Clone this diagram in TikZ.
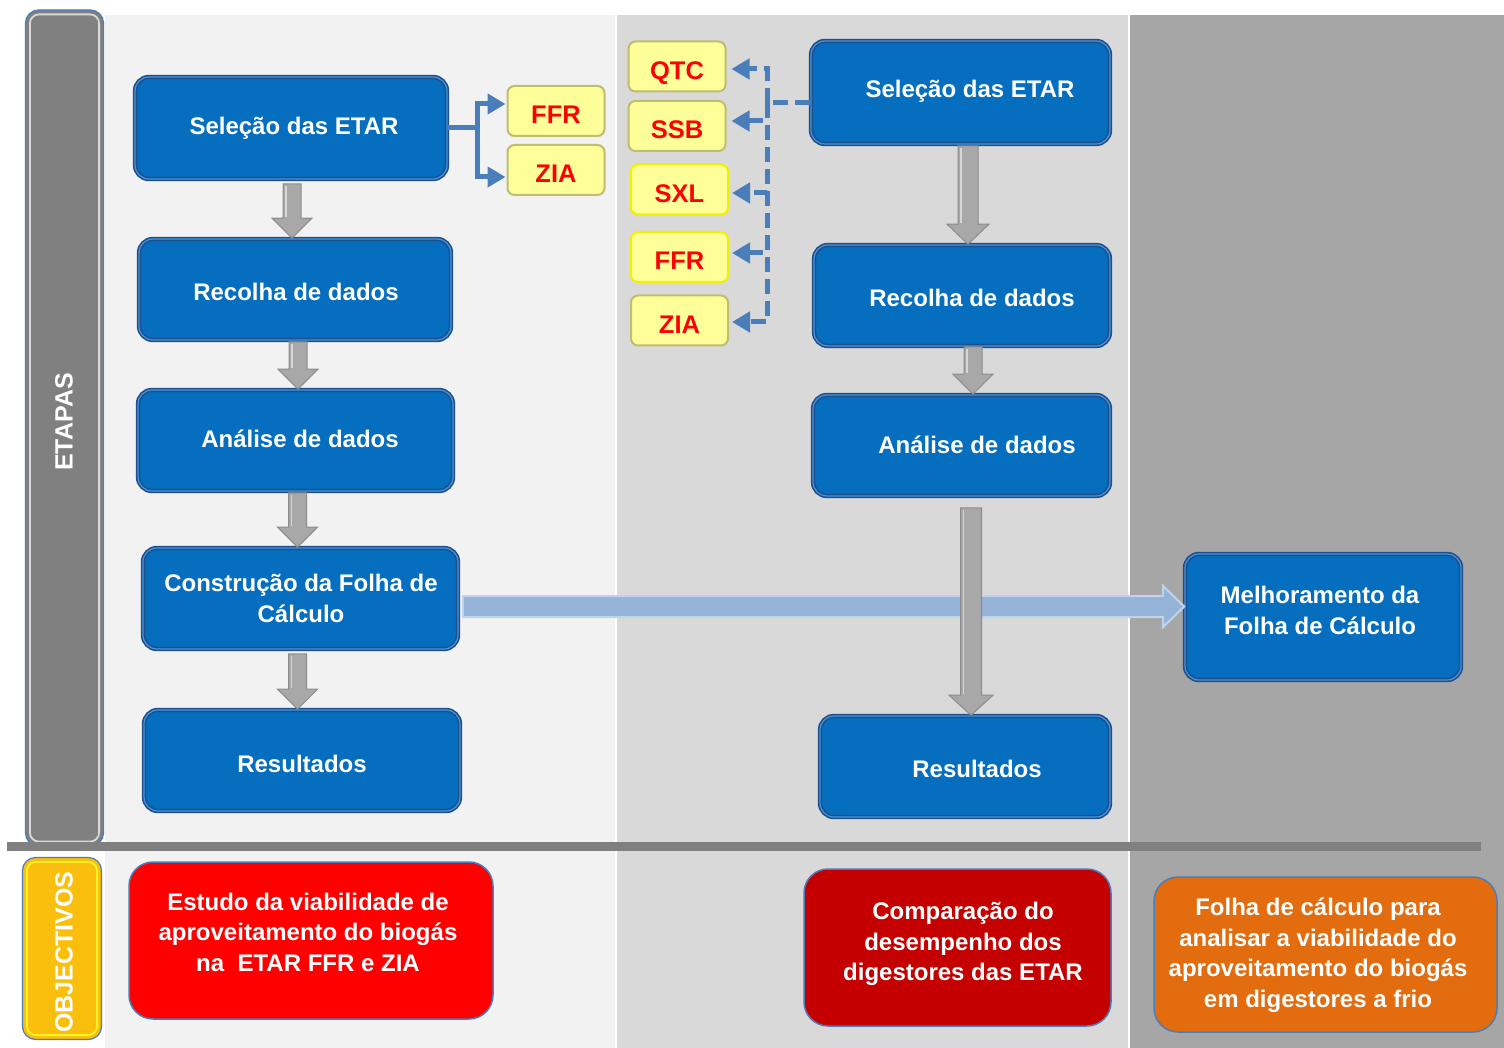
\documentclass[tikz,border=0pt]{standalone}
\usepackage{fontspec}
\setmainfont{Liberation Sans}
\usetikzlibrary{arrows.meta,calc}

\definecolor{bgleft}{RGB}{242,242,242}
\definecolor{bgmid}{RGB}{217,217,217}
\definecolor{bgright}{RGB}{166,166,166}
\definecolor{sepgray}{RGB}{128,128,128}
\definecolor{barblue}{RGB}{74,126,187}
\definecolor{boxblue}{RGB}{5,110,190}
\definecolor{boxedge}{RGB}{30,78,140}
\definecolor{boxshine}{RGB}{70,150,220}
\definecolor{tagfill}{RGB}{255,255,153}
\definecolor{tagedge}{RGB}{190,190,110}
\definecolor{tagbright}{RGB}{240,240,0}
\definecolor{tagred}{RGB}{255,0,0}
\definecolor{linkblue}{RGB}{74,126,187}
\definecolor{blockgray}{RGB}{168,168,168}
\definecolor{blockedge}{RGB}{140,140,140}
\definecolor{flowfill}{RGB}{149,179,215}
\definecolor{flowedge}{RGB}{190,212,238}
\definecolor{goldfill}{RGB}{250,190,12}
\definecolor{goldshine}{RGB}{255,240,40}
\definecolor{redfill}{RGB}{255,0,0}
\definecolor{darkredfill}{RGB}{196,0,0}
\definecolor{orangefill}{RGB}{226,108,14}

\newcommand\boxfont{\fontsize{24}{31}\selectfont\bfseries}
\newcommand\tagfont{\fontsize{25.5}{30}\selectfont\bfseries}

% vertical grey block arrow from the bottom of one box to the top of the next
% #1 from, #2 to, #3 x offset, #4 gap below the source, #5 shaft half width, #6 head half width
\newcommand\blockdown[6]{%
  \coordinate (bd-s) at ([xshift=#3pt,yshift=-#4pt]#1.south);
  \coordinate (bd-e) at (#2.north -| bd-s);
  \filldraw[blockarrow] ([xshift=-#5pt]bd-s) -- ([xshift=-#5pt,yshift=20pt]bd-e)
    -- ([xshift=-#6pt,yshift=20pt]bd-e) -- (bd-e) -- ([xshift=#6pt,yshift=20pt]bd-e)
    -- ([xshift=#5pt,yshift=20pt]bd-e) -- ([xshift=#5pt]bd-s) -- cycle;
  \draw[blockshine] ([xshift=-#5pt+3pt,yshift=-2pt]bd-s) -- ([xshift=-#5pt+3pt,yshift=21pt]bd-e);
}

\begin{document}
\begin{tikzpicture}[x=1pt,y=-1pt,
  bluebox/.style={fill=boxblue, draw=boxedge, line width=1.6pt, double=boxshine,
    double distance=1.2pt, rounded corners=14pt, inner sep=0pt},
  boxtext/.style={text=white, font=\boxfont, align=center, inner sep=0pt},
  tagbox/.style={fill=tagfill, draw=tagedge, line width=2pt, rounded corners=7pt,
    inner sep=0pt, minimum width=97pt, minimum height=50pt, text=tagred, font=\tagfont,
    text height=26pt, text depth=0pt},
  brighttag/.style={draw=tagbright},
  sidebar/.style={draw=barblue, line width=1.2pt, rounded corners=13pt, inner sep=0pt},
  sidetext/.style={text=white, font=\fontsize{25}{30}\selectfont\bfseries, rotate=90, inner sep=0pt},
  goalbox/.style={draw=barblue, line width=1.5pt, rounded corners=24pt, inner sep=0pt},
  goaltext/.style={text=white, font=\fontsize{24}{30.5}\selectfont\bfseries, align=center, inner sep=0pt},
  linkline/.style={draw=linkblue, line width=5pt},
  linkdash/.style={draw=linkblue, line width=5pt, dash pattern=on 15pt off 7pt},
  linktip/.style={-{Triangle[length=18pt,width=20pt]}},
  blockarrow/.style={fill=blockgray, draw=blockedge, line width=1pt, line join=miter},
  blockshine/.style={draw=white, line width=1.5pt, opacity=0.55},
  flowarrow/.style={fill=flowfill, draw=flowedge, line width=2pt, line join=miter},
]
\useasboundingbox (0,0) rectangle (1504,1048);
\fill[white] (0,0) rectangle (1504,1048);

% column backgrounds
\fill[bgleft]  (105,15) rectangle (615,1048);
\fill[bgmid]   (617,15) rectangle (1128,1048);
\fill[bgright] (1130,15) rectangle (1504,1048);

% side labels
\node[sidebar, fill=sepgray, minimum width=78pt, minimum height=836pt] (etapas) at (64.5,428) {};
\draw[white!70!sepgray, line width=1.8pt, rounded corners=9pt]
  ([shift={(5pt,-5pt)}]etapas.north west) rectangle ([shift={(-5pt,5pt)}]etapas.south east);
\node[sidetext] (etapast) at (64,422) {ETAPAS};

\fill[sepgray] (7,842) rectangle (1481,851);

\node[sidebar, fill=goldfill, minimum width=79pt, minimum height=182pt] (objectivos) at (62,948.5) {};
\draw[goldshine, line width=1.8pt, rounded corners=9pt]
  ([shift={(5pt,-5pt)}]objectivos.north west) rectangle ([shift={(-5pt,5pt)}]objectivos.south east);
\node[sidetext] (objectivost) at (64,952) {OBJECTIVOS};

% left column boxes
\node[bluebox, minimum width=312pt, minimum height=102pt] (l1) at (291,128) {};
\node[boxtext] (l1t) at (294,128) {Seleção das ETAR};
\node[bluebox, minimum width=312pt, minimum height=101pt] (l2) at (295,289.5) {};
\node[boxtext] (l2t) at (296,292) {Recolha de dados};
\node[bluebox, minimum width=315pt, minimum height=101pt] (l3) at (295.5,440.5) {};
\node[boxtext] (l3t) at (300,439) {Análise de dados};
\node[bluebox, minimum width=315pt, minimum height=101pt] (l4) at (300.5,598.5) {};
\node[boxtext] (l4t) at (301,598) {Construção da Folha de\\Cálculo};
\node[bluebox, minimum width=316pt, minimum height=101pt] (l5) at (302,760.5) {};
\node[boxtext] (l5t) at (302,764) {Resultados};

% middle column boxes
\node[bluebox, minimum width=299pt, minimum height=103pt] (m1) at (960.5,92.5) {};
\node[boxtext] (m1t) at (970,91) {Seleção das ETAR};
\node[bluebox, minimum width=296pt, minimum height=101pt] (m2) at (962,295.5) {};
\node[boxtext] (m2t) at (972,298) {Recolha de dados};
\node[bluebox, minimum width=297pt, minimum height=101pt] (m3) at (961.5,445.5) {};
\node[boxtext] (m3t) at (977,445) {Análise de dados};
\node[bluebox, minimum width=290pt, minimum height=101pt] (m4) at (965,766.5) {};
\node[boxtext] (m4t) at (977,769) {Resultados};

% right column box
\node[bluebox, minimum width=276pt, minimum height=126pt] (r1) at (1323,617) {};
\node[boxtext] (r1t) at (1320,610) {Melhoramento da\\Folha de Cálculo};

% plant tags
\node[tagbox] (y1) at (556,111) {FFR};
\node[tagbox] (y2) at (556,170) {ZIA};
\node[tagbox] (q1) at (677,66.5) {QTC};
\node[tagbox] (q2) at (677,126) {SSB};
\node[tagbox, brighttag] (q3) at (679.5,189.5) {SXL};
\node[tagbox, brighttag] (q4) at (679.5,257) {FFR};
\node[tagbox] (q5) at (679.5,320.5) {ZIA};

% plant selection links, left
\coordinate (fk) at ([xshift=30pt]l1.east);
\draw[linkline] (l1.east) -- (fk);
\draw[linkline, linktip] (fk) |- ([xshift=-1pt,yshift=7pt]y1.west);
\draw[linkline, linktip] (fk) |- ([xshift=-1pt,yshift=-7pt]y2.west);

% plant selection links, middle
\coordinate (dk) at ([xshift=-43pt,yshift=-10.5pt]m1.west);
\draw[linkdash] ([yshift=-10.5pt]m1.west) -- (dk);
\draw[linkdash, linktip] (dk) |- ([xshift=5pt,yshift=-2.5pt]q1.east);
\draw[linkdash, linktip] (dk) |- ([xshift=5pt,yshift=5pt]q2.east);
\draw[linkdash, linktip] (dk) |- ([xshift=3pt,yshift=-3.5pt]q3.east);
\draw[linkdash, linktip] (dk) |- ([xshift=3pt,yshift=4pt]q4.east);
\draw[linkdash, linktip] (dk) |- ([xshift=3pt,yshift=-1.5pt]q5.east);

% long arrow towards the spreadsheet improvement
\coordinate (fa-s) at ([xshift=4pt,yshift=-8pt]l4.east);
\coordinate (fa-e) at (r1.west |- fa-s);
\filldraw[flowarrow] ([yshift=10.5pt]fa-s) -- ([xshift=-21pt,yshift=10.5pt]fa-e)
  -- ([xshift=-21pt,yshift=20.5pt]fa-e) -- (fa-e) -- ([xshift=-21pt,yshift=-20.5pt]fa-e)
  -- ([xshift=-21pt,yshift=-10.5pt]fa-e) -- ([yshift=-10.5pt]fa-s) -- cycle;

% step arrows
\blockdown{l1}{l2}{1}{4}{9}{20}
\blockdown{l2}{l3}{3}{1}{9}{20}
\blockdown{l3}{l4}{2}{1}{9}{20}
\blockdown{l4}{l5}{-3}{4}{9}{20}
\blockdown{m1}{m2}{7.5}{1}{10}{21}
\blockdown{m2}{m3}{11}{0}{9}{20}
\blockdown{m3}{m4}{9.5}{11}{10.5}{22}

% objectives
\node[goalbox, fill=redfill, minimum width=364pt, minimum height=157pt] (g1) at (311,940.5) {};
\node[goaltext] (g1t) at (308,932) {Estudo da viabilidade de\\aproveitamento do biogás\\na\ \ ETAR FFR e ZIA};
\node[goalbox, fill=darkredfill, minimum width=307pt, minimum height=157pt] (g2) at (957.5,947.5) {};
\node[goaltext] (g2t) at (963,944) {Comparação do\\desempenho dos\\digestores das ETAR};
\node[goalbox, fill=orangefill, minimum width=343pt, minimum height=155pt] (g3) at (1325.5,954.5) {};
\node[goaltext] (g3t) at (1318,955) {Folha de cálculo para\\analisar a viabilidade do\\aproveitamento do biogás\\em digestores a frio};
\end{tikzpicture}
\end{document}
